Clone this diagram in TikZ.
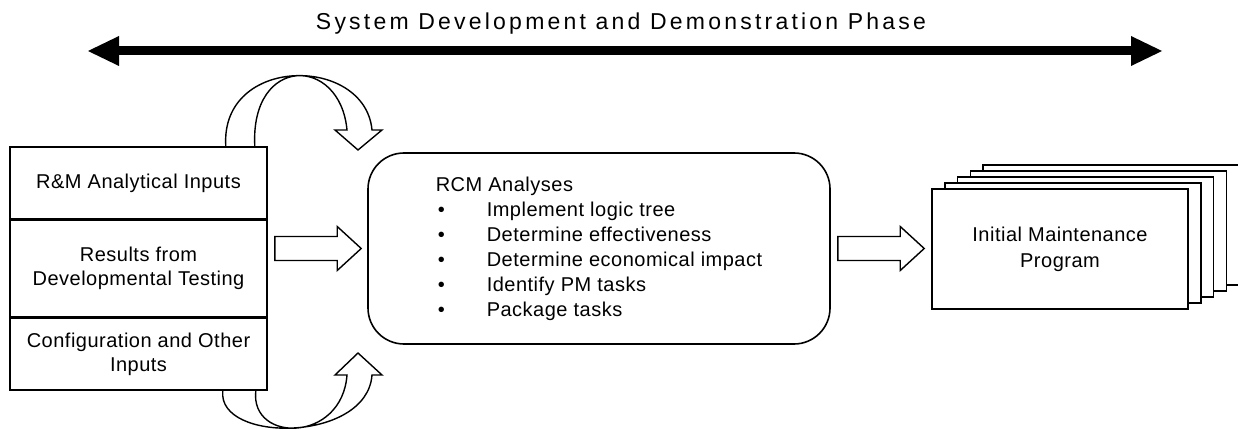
\documentclass[tikz,border=0pt]{standalone}
\usepackage{fontspec}
\setmainfont{Liberation Sans}
\newfontfamily\diagfont{Liberation Sans}[LetterSpace=2.5]
\newfontfamily\titlefont{Liberation Sans}[LetterSpace=14]
\usepackage{tikz}
\usetikzlibrary{arrows.meta,positioning,calc}

\newcommand{\bul}{\hspace*{2pt}\makebox[49pt][l]{\textbullet}}
\newcommand{\blockarrow}[2]{%
  \draw[blockarr] let \p1=#1, \p2=#2 in
    (\x1,\y1+12pt) -- (\x2-24pt,\y1+12pt) -- (\x2-24pt,\y1+22pt) -- (\x2,\y1)
    -- (\x2-24pt,\y1-22pt) -- (\x2-24pt,\y1-12pt) -- (\x1,\y1-12pt) -- cycle;}

\begin{document}
\begin{tikzpicture}[x=1pt, y=-1pt,
    cell/.style={draw, rectangle, minimum width=257pt, inner sep=0pt, align=center, font=\diagfont\fontsize{20}{24}\selectfont},
    sheet/.style={draw, fill=white, rectangle, minimum width=256pt, minimum height=120pt, inner sep=0pt, align=center, font=\diagfont\fontsize{20}{26}\selectfont},
    blockarr/.style={line width=1.4pt, line join=miter},
    phasetip/.tip={Triangle[length=31pt 0 0, width=30pt 0 0, line width=0pt]},
    line width=1.6pt
]
\clip (0,0) rectangle (1238,430);

\node[font=\titlefont\fontsize{23}{27}\selectfont, anchor=base] (title) at (621,30) {System Development and Demonstration Phase};
\coordinate (pstart) at (88,51);
\coordinate (pend) at (1162,51);
\draw[line width=9pt, phasetip-phasetip] (pstart) -- (pend);

\node[cell, minimum height=72pt] (rm) at (138.5,183) {R\&M Analytical Inputs};
\node[cell, minimum height=96pt, below=0pt of rm] (devtest) {Results from\\Developmental Testing};
\node[cell, minimum height=72pt, below=0pt of devtest] (config) {Configuration and Other\\Inputs};

\node[draw, rounded corners=36pt, minimum width=462pt, minimum height=191pt, align=left,
      font=\diagfont\fontsize{20}{25}\selectfont] (rcm) at (599,248.5)
  {RCM Analyses\\ \bul Implement logic tree\\ \bul Determine effectiveness\\
   \bul Determine economical impact\\ \bul Identify PM tasks\\ \bul Package tasks};

\foreach \i in {4,3,2,1}
  \node[sheet] (imp\i) at (1060+12.8*\i, 249-6*\i) {};
\node[sheet] (imp) at (1060,249) {Initial Maintenance\\Program};

\blockarrow{($(devtest.east |- rcm.west)+(7pt,0)$)}{($(rcm.west)+(-6pt,0)$)}
\blockarrow{($(rcm.east)+(7pt,0)$)}{($(imp.west)+(-7pt,0)$)}

\draw[blockarr] ($(rm.north east)+(-42,0)$) .. controls (220,55) and (365,55) .. (372,130)
  -- (382,130) -- (358,150) -- (335,130) -- (347,130)
  .. controls (340,55) and (250,55) .. ($(rm.north east)+(-13,0)$);
\draw[blockarr] ($(config.south east)+(-45,0)$) .. controls (217,443) and (367,443) .. (372,375)
  -- (382,375) -- (358,353) -- (335,375) -- (347,375)
  .. controls (342,443) and (250,443) .. ($(config.south east)+(-12,0)$);
\end{tikzpicture}
\end{document}
